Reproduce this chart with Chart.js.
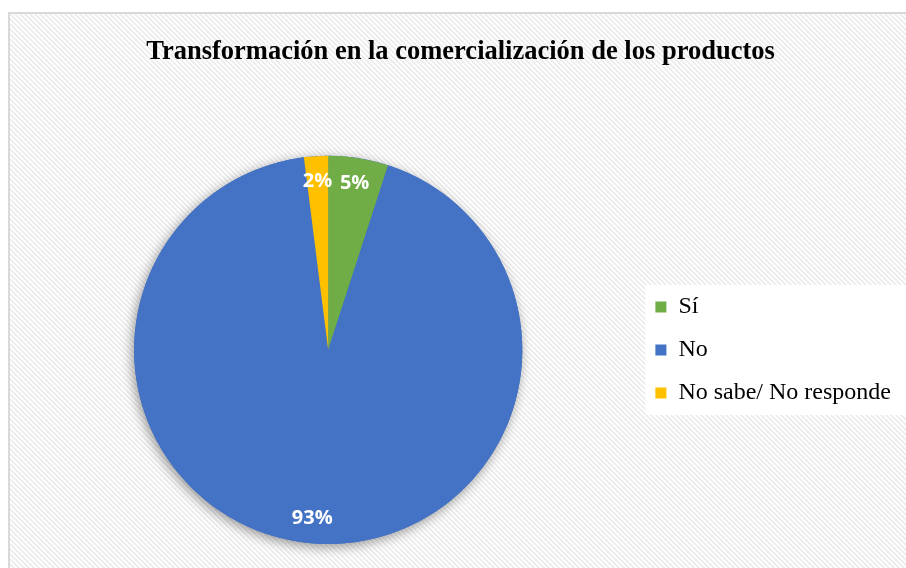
<!DOCTYPE html>
<html>
<head>
<meta charset="utf-8">
<script src="https://cdn.jsdelivr.net/npm/chart.js@4/dist/chart.umd.min.js"></script>
<style>
  html, body { margin: 0; padding: 0; background: #fff; overflow: hidden; width: 906px; height: 568px; }
  .frame { position: absolute; left: 8px; top: 12px; width: 920px; height: 600px; border: 2px solid #d9d9d9; }
  #chart { display: block; }
</style>
</head>
<body>
<div class="frame">
  <canvas id="chart" width="906" height="554"></canvas>
</div>
<script>
const titleText = "Transformación en la comercialización de los productos";
const categories = ["Sí", "No", "No sabe/ No responde"];
const percentages = [5, 93, 2];
const sliceColors = ["#70AD47", "#4472C4", "#FFC000"];

// ===== hatch background =====
function makeHatch() {
    const s = 5;
    const c = document.createElement("canvas");
    c.width = s; c.height = s;
    const g = c.getContext("2d");
    g.fillStyle = "#ffffff";
    g.fillRect(0, 0, s, s);
    g.strokeStyle = "#ebebeb";
    g.lineWidth = 1.6;
    g.beginPath();
    g.moveTo(-1, -1); g.lineTo(s + 1, s + 1);
    g.moveTo(-1, s - 1); g.lineTo(1, s + 1);
    g.moveTo(s - 1, -1); g.lineTo(s + 1, 1);
    g.stroke();
    return c;
}

const backgroundPlugin = {
    id: "hatchBg",
    beforeDraw(chart) {
        const ctx = chart.ctx;
        ctx.save();
        ctx.fillStyle = ctx.createPattern(makeHatch(), "repeat");
        ctx.fillRect(0, 0, chart.width, chart.height);

        // white box behind legend
        const lg = chart.legend;
        if (lg && lg.legendHitBoxes && lg.legendHitBoxes.length) {
            const boxes = lg.legendHitBoxes;
            const last = boxes[boxes.length - 1];
            const top = boxes[0].top - 10;
            const bottom = last.top + last.height + 10;
            ctx.fillStyle = "#ffffff";
            ctx.fillRect(lg.left + 9, top, chart.width - lg.left, bottom - top);
        }
        ctx.restore();
    }
};

// ===== pie shadow =====
const shadowPlugin = {
    id: "pieShadow",
    beforeDatasetsDraw(chart) {
        const arc = chart.getDatasetMeta(0).data[0];
        if (!arc) return;
        const ctx = chart.ctx;
        ctx.save();
        ctx.shadowColor = "rgba(0,0,0,0.4)";
        ctx.shadowBlur = 12;
        ctx.shadowOffsetX = -2;
        ctx.shadowOffsetY = 3;
        ctx.fillStyle = "#4472C4";
        ctx.beginPath();
        ctx.arc(arc.x, arc.y, arc.outerRadius, 0, Math.PI * 2);
        ctx.fill();
        ctx.restore();
    }
};

// ===== percentage labels =====
const labelPlugin = {
    id: "pctLabels",
    afterDatasetsDraw(chart) {
        const ctx = chart.ctx;
        const meta = chart.getDatasetMeta(0);
        ctx.save();
        ctx.fillStyle = "#ffffff";
        ctx.font = "bold 20px 'Open Sans', 'DejaVu Sans', sans-serif";
        ctx.textAlign = "center";
        ctx.textBaseline = "middle";
        meta.data.forEach((arc, i) => {
            const mid = (arc.startAngle + arc.endAngle) / 2;
            const r = arc.outerRadius * 0.87;
            ctx.fillText(percentages[i] + "%", arc.x + Math.cos(mid) * r, arc.y + Math.sin(mid) * r);
        });
        ctx.restore();
    }
};

new Chart(document.getElementById("chart"), {
    type: "pie",
    data: {
        labels: categories,
        datasets: [{
            data: percentages,
            backgroundColor: sliceColors,
            borderWidth: 0
        }]
    },
    options: {
        responsive: false,
        animation: false,
        layout: {
            padding: { left: 10, right: 15, top: 0, bottom: 24 }
        },
        plugins: {
            title: {
                display: true,
                text: titleText,
                color: "#000000",
                font: { family: "'Liberation Serif', 'Times New Roman', serif", size: 26.5, weight: "bold" },
                padding: { top: 22, bottom: 88 }
            },
            legend: {
                position: "right",
                fullSize: false,
                labels: {
                    boxWidth: 11,
                    boxHeight: 11,
                    padding: 19,
                    color: "#000000",
                    font: { family: "'Liberation Serif', 'Times New Roman', serif", size: 24 }
                }
            },
            tooltip: { enabled: false }
        }
    },
    plugins: [backgroundPlugin, shadowPlugin, labelPlugin]
});
</script>
</body>
</html>
